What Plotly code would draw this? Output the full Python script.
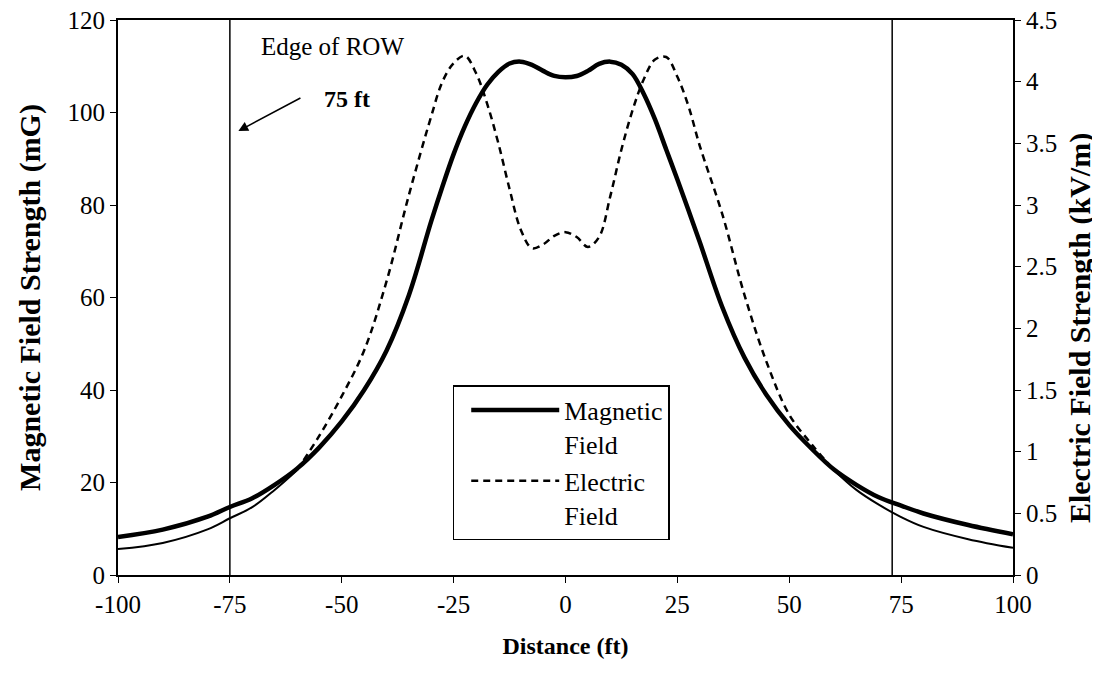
import numpy as np
import plotly.graph_objects as go

# ---- data ----
distance_ft = [-100, -90, -80, -75, -70, -65, -60, -55, -50, -45, -40, -35, -30, -27.5, -25, -22.5,
               -20, -17.5, -15, -12.5, -10, -7.5, -5, -2.5, 0, 2.5, 5, 7.5, 10, 12.5, 15, 17.5,
               20, 22.5, 25, 27.5, 30, 35, 40, 45, 50, 55, 60, 65, 70, 75, 80, 90, 100]
magnetic_mG = [8.2, 9.8, 12.6, 14.7, 16.6, 19.5, 23.0, 27.6, 33.2, 40.0, 48.5, 60.5, 76.5, 84.0,
               91.0, 97.0, 102.0, 106.0, 108.8, 110.6, 111.0, 110.3, 109.0, 107.9, 107.6, 107.9,
               109.0, 110.5, 111.0, 110.3, 108.3, 104.0, 98.5, 92.0, 85.5, 78.8, 72.0, 58.0,
               47.0, 38.8, 32.4, 27.3, 22.8, 19.5, 16.8, 15.0, 13.3, 10.8, 8.8]
electric_kVm = [0.21, 0.26, 0.37, 0.46, 0.55, 0.69, 0.85, 1.13, 1.45, 1.82, 2.38, 3.08, 3.72, 4.00,
                4.15, 4.21, 4.07, 3.82, 3.50, 3.13, 2.80, 2.65, 2.68, 2.75, 2.78, 2.74, 2.66, 2.74,
                3.07, 3.45, 3.77, 4.02, 4.18, 4.20, 4.04, 3.80, 3.48, 2.93, 2.27, 1.72, 1.30, 1.06,
                0.85, 0.69, 0.57, 0.47, 0.39, 0.29, 0.22]
row_edges_ft = [-75, 73]
x_ticks = [-100, -75, -50, -25, 0, 25, 50, 75, 100]
x_tick_text = ["-100", "-75", "-50", "-25", "0", "25", "50", "75", "100"]

x = np.array(distance_ft)
m = np.array(magnetic_mG)
e = np.array(electric_kVm)

FONT = "Liberation Serif"
fig = go.Figure()

fig.add_trace(go.Scatter(x=x, y=m, mode="lines", name="Magnetic<br>Field",
                         line=dict(color="black", width=4.5, shape="spline", smoothing=1.0)))
mid = (x >= -60) & (x <= 60)
fig.add_trace(go.Scatter(x=x[mid], y=e[mid], mode="lines", name="Electric<br>Field", yaxis="y2",
                         line=dict(color="black", width=2.5, dash="7px,5px", shape="spline", smoothing=1.0)))
for msk in (x <= -60, x >= 60):
    fig.add_trace(go.Scatter(x=x[msk], y=e[msk], mode="lines", showlegend=False, yaxis="y2",
                             line=dict(color="black", width=2, shape="spline", smoothing=1.0)))

for xe in row_edges_ft:
    fig.add_shape(type="line", xref="x", yref="y", x0=xe, x1=xe, y0=0, y1=120,
                  line=dict(color="black", width=1.5))

fig.add_annotation(x=-52.0, y=114.3, xref="x", yref="y", text="Edge of ROW", showarrow=False,
                   font=dict(family=FONT, size=25, color="black"))
fig.add_annotation(x=-48.8, y=103.0, xref="x", yref="y", text="<b>75 ft</b>", showarrow=False,
                   font=dict(family=FONT, size=24, color="black"))
fig.add_annotation(x=-73.1, y=96.0, xref="x", yref="y", ax=-58.9, ay=103.3, axref="x", ayref="y",
                   text="", showarrow=True, arrowhead=2, arrowsize=1.3, arrowwidth=1.5,
                   arrowcolor="black")
# right-hand axis title (sits a little below the plot centre in the reference)
fig.add_annotation(x=1.0749, y=0.445, xref="paper", yref="paper", textangle=-90, showarrow=False,
                   xanchor="center", yanchor="middle",
                   text="<b>Electric Field Strength (kV/m)</b>",
                   font=dict(family=FONT, size=30, color="black"))

# page body adds an 8px offset; margins compensate so the plot box lands at 118..1013 x 20..575
fig.update_layout(
    width=1100, height=681,
    margin=dict(l=110, r=95, t=12, b=114),
    plot_bgcolor="white", paper_bgcolor="white",
    font=dict(family=FONT, size=26, color="black"),
    showlegend=True,
    legend=dict(x=0.374, y=0.342, xanchor="left", yanchor="top",
                bordercolor="black", borderwidth=1.5, bgcolor="white",
                font=dict(family=FONT, size=26, color="black"),
                valign="top", tracegroupgap=0, itemwidth=88, indentation=12),
    xaxis=dict(range=[-100, 100], tickvals=x_ticks, ticktext=x_tick_text, ticks="outside", ticklen=6,
               tickcolor="black", showline=True, linecolor="black", linewidth=2, mirror=True,
               showgrid=False, zeroline=False, automargin=False, ticklabeloverflow="allow",
               tickfont=dict(family=FONT, size=25),
               title=dict(text="<b>Distance (ft)</b>", font=dict(family=FONT, size=24), standoff=20)),
    yaxis=dict(range=[0, 120], dtick=20, ticks="outside", ticklen=6, tickcolor="black",
               showline=True, linecolor="black", linewidth=2, showgrid=False, zeroline=False,
               automargin=False, ticklabeloverflow="allow", tickfont=dict(family=FONT, size=25),
               title=dict(text="<b>Magnetic Field Strength (mG)</b>", font=dict(family=FONT, size=30),
                          standoff=18)),
    yaxis2=dict(range=[0, 4.5], dtick=0.5, overlaying="y", side="right", ticks="outside",
                ticklen=6, tickcolor="black", showline=True, linecolor="black", linewidth=2,
                showgrid=False, zeroline=False, automargin=False, ticklabeloverflow="allow",
                tickfont=dict(family=FONT, size=25)),
)

fig.write_html("out.html")
